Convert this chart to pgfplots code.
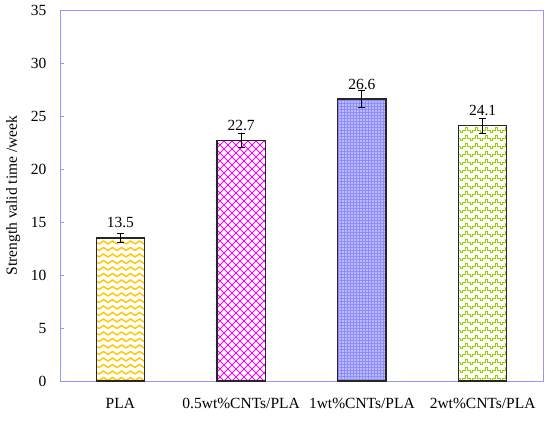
\documentclass[border=0pt]{standalone}
\usepackage{pgfplots}
\pgfplotsset{compat=1.18}
\usepackage{fontspec}
\setmainfont{Liberation Serif}
\usetikzlibrary{patterns}
\definecolor{frame}{RGB}{150,150,255}
\definecolor{yel}{RGB}{255,200,0}
\definecolor{mag}{RGB}{255,0,255}
\definecolor{blu}{RGB}{140,140,250}
\definecolor{grn}{RGB}{150,210,0}
\pgfdeclarepatternformonly{wave}{\pgfpoint{-1bp}{-1bp}}{\pgfpoint{10bp}{7.5bp}}{\pgfpoint{9bp}{6.5bp}}{%
  \pgfsetlinewidth{1.4bp}%
  \pgfpathmoveto{\pgfpoint{0bp}{1.5bp}}%
  \pgfpathcurveto{\pgfpoint{1.5bp}{1.5bp}}{\pgfpoint{3bp}{4.5bp}}{\pgfpoint{4.5bp}{4.5bp}}%
  \pgfpathcurveto{\pgfpoint{6bp}{4.5bp}}{\pgfpoint{7.5bp}{1.5bp}}{\pgfpoint{9bp}{1.5bp}}%
  \pgfusepath{stroke}}
\pgfdeclarepatternformonly{diamonds}{\pgfpoint{-1bp}{-1bp}}{\pgfpoint{9bp}{9bp}}{\pgfpoint{8bp}{8bp}}{%
  \pgfsetlinewidth{1bp}%
  \pgfpathmoveto{\pgfpoint{0bp}{0bp}}\pgfpathlineto{\pgfpoint{8bp}{8bp}}%
  \pgfpathmoveto{\pgfpoint{0bp}{8bp}}\pgfpathlineto{\pgfpoint{8bp}{0bp}}%
  \pgfusepath{stroke}}
\pgfdeclarepatternformonly{wdots}{\pgfpointorigin}{\pgfpoint{3bp}{3bp}}{\pgfpoint{3bp}{3bp}}{%
  \pgfpathrectangle{\pgfpoint{0.6bp}{0.6bp}}{\pgfpoint{1.5bp}{1.5bp}}%
  \pgfusepath{fill}}
\pgfdeclarepatternformonly{chevron}{\pgfpoint{-1bp}{-1bp}}{\pgfpoint{11bp}{9bp}}{\pgfpoint{10bp}{8bp}}{%
  \pgfsetlinewidth{1bp}%
  \pgfpathmoveto{\pgfpoint{0bp}{0bp}}\pgfpathlineto{\pgfpoint{2.5bp}{0bp}}\pgfpathlineto{\pgfpoint{2.5bp}{2.5bp}}%
  \pgfpathlineto{\pgfpoint{5bp}{2.5bp}}\pgfpathlineto{\pgfpoint{5bp}{5bp}}%
  \pgfpathmoveto{\pgfpoint{5bp}{5bp}}\pgfpathlineto{\pgfpoint{7.5bp}{5bp}}\pgfpathlineto{\pgfpoint{7.5bp}{2.5bp}}%
  \pgfpathlineto{\pgfpoint{10bp}{2.5bp}}\pgfpathlineto{\pgfpoint{10bp}{0bp}}%
  \pgfusepath{stroke}}
\begin{document}
\begin{tikzpicture}
\begin{axis}[
  scale only axis, width=483bp, height=371bp,
  ymin=0, ymax=35, ytick={0,5,...,35},
  xmin=-0.5, xmax=3.5,
  xtick={0,1,2,3}, xticklabels={PLA,0.5wt\%CNTs/PLA,1wt\%CNTs/PLA,2wt\%CNTs/PLA},
  extra x ticks={0.5,1.5,2.5}, extra x tick labels={},
  extra x tick style={major tick length=4bp},
  major x tick style={draw=none},
  tick style={frame, line width=0.8bp},
  major tick length=4bp,
  tick align=inside, xtick pos=bottom, ytick pos=left,
  axis line style={frame, line width=0.8bp},
  tick label style={font=\fontsize{15.5bp}{18bp}\selectfont},
  /pgf/number format/assume math mode=true,
  xticklabel style={yshift=-10bp},
  yticklabel style={xshift=-10bp},
  ylabel={Strength valid time /week},
  ylabel style={font=\fontsize{15.5bp}{18bp}\selectfont, yshift=4bp},
  ybar, bar width=0.4, bar shift=0pt,
  nodes near coords, point meta=explicit symbolic,
  every node near coord/.append style={font=\fontsize{15.5bp}{18bp}\selectfont, black, inner sep=1pt, yshift=8bp},
  error bars/error bar style={black, line width=0.8bp},
  error bars/error mark options={rotate=90, mark size=3.5bp, black, line width=0.8bp},
]
\addplot[draw=black!85, line width=1.4bp, fill=white, postaction={pattern=wave, pattern color=yel},
  error bars/.cd, y dir=both, y explicit]
  coordinates {(0,13.5) +- (0,0.45) [13.5]};
\addplot[draw=black!85, line width=1.4bp, fill=white, postaction={pattern=diamonds, pattern color=mag},
  error bars/.cd, y dir=both, y explicit]
  coordinates {(1,22.7) +- (0,0.7) [22.7]};
\addplot[draw=black!85, line width=1.4bp, fill=blu, postaction={pattern=wdots, pattern color=white},
  error bars/.cd, y dir=both, y explicit]
  coordinates {(2,26.6) +- (0,0.78) [26.6]};
\addplot[draw=black!85, line width=1.4bp, fill=white, postaction={pattern=chevron, pattern color=grn},
  error bars/.cd, y dir=both, y explicit]
  coordinates {(3,24.1) +- (0,0.72) [24.1]};
\end{axis}
\path (-60bp,-40bp) rectangle (490bp,381bp);
\end{tikzpicture}
\end{document}
